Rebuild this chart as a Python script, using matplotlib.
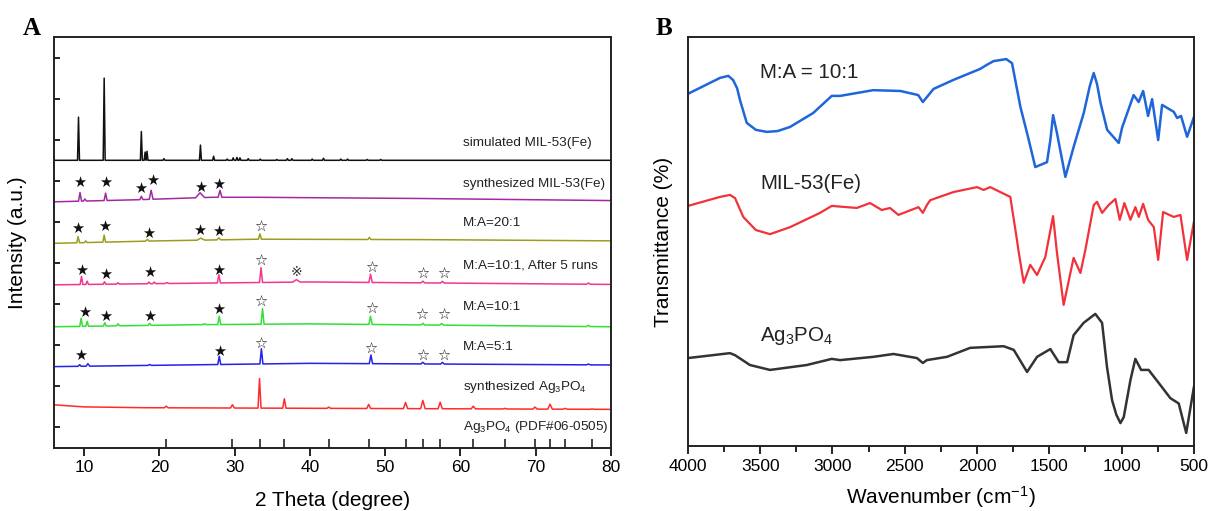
import numpy as np
import matplotlib.pyplot as plt

plt.rcParams['font.family'] = ['Liberation Sans', 'DejaVu Sans', 'Noto Sans CJK SC']
plt.rcParams['mathtext.fontset'] = 'custom'
plt.rcParams['mathtext.rm'] = 'Liberation Sans'
plt.rcParams['mathtext.default'] = 'rm'

# ---------------- XRD data (panel A) ----------------
# each pattern: baseline vertices, peak positions, peak heights, peak half widths
sim_base_x = [6, 80]
sim_base_y = [7.0, 7.0]
sim_pos = [9.25, 12.66, 17.6, 18.1, 18.35, 20.6, 25.45, 27.2, 29.0, 29.8, 30.3, 30.7,
           31.8, 33.4, 35.6, 37.0, 37.6, 40.3, 41.8, 44.1, 45.0, 47.6, 49.4]
sim_h = [1.05, 2.0, 0.7, 0.2, 0.22, 0.04, 0.37, 0.1, 0.03, 0.06, 0.07, 0.06,
         0.04, 0.03, 0.02, 0.04, 0.04, 0.03, 0.05, 0.03, 0.03, 0.02, 0.02]
sim_w = [0.13] * len(sim_pos)

mil_base_x = [6, 17, 27, 33, 55, 80]
mil_base_y = [5.99, 6.04, 6.1, 6.1, 6.07, 6.02]
mil_pos = [9.45, 10.1, 12.85, 17.6, 18.9, 25.4, 28.05]
mil_h = [0.21, 0.05, 0.18, 0.08, 0.22, 0.12, 0.17]
mil_w = [0.2, 0.2, 0.2, 0.2, 0.25, 0.6, 0.25]

ma20_base_x = [6, 20, 33, 55, 80]
ma20_base_y = [4.98, 5.04, 5.08, 5.07, 5.04]
ma20_pos = [9.2, 10.2, 12.66, 18.4, 25.5, 27.9, 33.35, 47.9]
ma20_h = [0.15, 0.04, 0.17, 0.04, 0.05, 0.05, 0.13, 0.05]
ma20_w = [0.18, 0.18, 0.18, 0.25, 0.5, 0.25, 0.2, 0.2]

ma10r_base_x = [6, 20, 40, 80]
ma10r_base_y = [3.97, 4.0, 4.04, 3.98]
ma10r_pos = [9.65, 10.4, 12.7, 14.5, 18.6, 19.3, 21.0, 27.9, 33.5, 38.2, 48.05, 55.0, 57.6, 77.0]
ma10r_h = [0.2, 0.08, 0.06, 0.03, 0.04, 0.04, 0.02, 0.2, 0.36, 0.06, 0.2, 0.04, 0.04, 0.03]
ma10r_w = [0.18, 0.18, 0.18, 0.2, 0.2, 0.2, 0.3, 0.2, 0.2, 0.5, 0.22, 0.25, 0.25, 0.25]

ma10_base_x = [6, 25, 40, 80]
ma10_base_y = [2.95, 3.0, 3.02, 2.95]
ma10_pos = [9.6, 10.4, 12.75, 14.5, 18.7, 26.0, 27.95, 33.7, 48.05, 55.0, 57.5, 77.0]
ma10_h = [0.2, 0.12, 0.08, 0.05, 0.05, 0.02, 0.2, 0.38, 0.2, 0.04, 0.04, 0.03]
ma10_w = [0.18, 0.18, 0.18, 0.2, 0.2, 0.3, 0.2, 0.2, 0.22, 0.25, 0.25, 0.25]

ma5_base_x = [6, 40, 80]
ma5_base_y = [1.98, 2.06, 2.02]
ma5_pos = [9.4, 10.5, 18.7, 27.95, 33.55, 48.1, 55.0, 57.6, 77.0]
ma5_h = [0.04, 0.06, 0.02, 0.2, 0.37, 0.21, 0.04, 0.04, 0.02]
ma5_w = [0.2, 0.25, 0.25, 0.2, 0.2, 0.22, 0.25, 0.25, 0.25]

ag_base_x = [6, 10, 18, 50, 80]
ag_base_y = [1.05, 1.0, 0.98, 0.96, 0.94]
ag_pos = [20.9, 29.7, 33.3, 36.6, 42.5, 47.8, 52.7, 55.0, 57.3, 61.7, 65.9, 69.9, 71.9, 73.9, 77.5]
ag_h = [0.04, 0.08, 0.72, 0.23, 0.03, 0.1, 0.15, 0.2, 0.16, 0.065, 0.015, 0.05, 0.12, 0.02, 0.01]
ag_w = [0.25, 0.25, 0.2, 0.22, 0.25, 0.25, 0.28, 0.3, 0.28, 0.28, 0.28, 0.28, 0.3, 0.28, 0.28]

pdf_pos = [20.9, 29.7, 33.3, 36.6, 42.5, 47.8, 52.7, 55.0, 57.3, 61.7, 65.9, 69.9, 71.9, 73.9, 77.5]

xrd_labels = ['simulated MIL-53(Fe)', 'synthesized MIL-53(Fe)', 'M:A=20:1',
              'M:A=10:1, After 5 runs', 'M:A=10:1', 'M:A=5:1',
              'synthesized Ag$_3$PO$_4$', 'Ag$_3$PO$_4$ (PDF#06-0505)']
xrd_label_y = [7.42, 6.42, 5.47, 4.45, 3.43, 2.46, 1.48, 0.51]
xrd_label_x = 60.3

# star markers (filled = MIL-53(Fe), open = Ag3PO4, reference mark = Ag)
mil_fill_x = [9.4, 12.9, 17.45, 19.1, 25.5, 27.9]
mil_fill_y = [6.45, 6.45, 6.32, 6.5, 6.33, 6.42]
ma20_fill_x = [9.1, 12.75, 18.5, 25.4, 27.8]
ma20_fill_y = [5.35, 5.4, 5.23, 5.3, 5.28]
ma20_open_x = [33.4]
ma20_open_y = [5.38]
ma10r_fill_x = [9.7, 12.8, 18.65, 27.9]
ma10r_fill_y = [4.33, 4.23, 4.28, 4.33]
ma10r_open_x = [33.5, 48.2, 55.0, 57.7]
ma10r_open_y = [4.53, 4.36, 4.23, 4.23]
ma10r_ref_x = [38.2]
ma10r_ref_y = [4.28]
ma10_fill_x = [10.0, 12.8, 18.7, 27.9]
ma10_fill_y = [3.31, 3.19, 3.21, 3.36]
ma10_open_x = [33.5, 48.2, 54.9, 57.7]
ma10_open_y = [3.55, 3.38, 3.24, 3.24]
ma5_fill_x = [9.56, 27.95]
ma5_fill_y = [2.24, 2.34]
ma5_open_x = [33.5, 48.1, 55.0, 57.7]
ma5_open_y = [2.53, 2.41, 2.24, 2.24]

# ---------------- FTIR data (panel B) ----------------
ftir_ma_wn = [4000, 3778, 3721, 3688, 3660, 3640, 3593, 3530, 3455, 3380, 3294, 3134, 3005, 2947,
              2718, 2530, 2407, 2375, 2347, 2301, 2164, 1978, 1932, 1886, 1798, 1758, 1700,
              1654, 1597, 1516, 1493, 1474, 1447, 1389, 1332, 1262, 1220, 1193, 1170, 1146,
              1100, 1020, 997, 917, 882, 851, 817, 789, 747, 720, 639, 616, 589, 547, 500]
ftir_ma_t = [86.1, 90.0, 90.5, 89.5, 87.5, 84.6, 79.0, 77.3, 76.8, 77.0, 78.0, 81.4, 85.6, 85.6,
             87.0, 86.8, 85.8, 84.1, 85.3, 87.3, 89.5, 92.2, 93.2, 94.1, 94.6, 93.6, 82.9,
             76.5, 68.2, 69.4, 74.8, 80.9, 76.5, 65.8, 73.1, 81.4, 88.0, 91.2, 88.5, 83.9,
             77.3, 74.1, 77.8, 85.8, 84.1, 86.8, 80.7, 84.8, 74.8, 83.4, 81.7, 80.2, 80.7,
             75.6, 80.4]

ftir_mil_wn = [4000, 3778, 3709, 3674, 3617, 3530, 3432, 3294, 3086, 3005, 2832, 2740, 2659,
               2602, 2544, 2405, 2375, 2347, 2324, 2162, 2000, 1955, 1909, 1840, 1770, 1724,
               1714, 1677, 1632, 1585, 1528, 1474, 1447, 1401, 1332, 1285, 1251, 1193, 1170,
               1135, 1090, 1043, 1013, 981, 939, 905, 881, 851, 817, 777, 747, 713, 639,
               593, 547, 500]
ftir_mil_t = [58.7, 60.9, 61.4, 60.6, 56.0, 52.8, 51.8, 53.5, 57.0, 58.7, 58.2, 59.4, 57.7,
              58.2, 56.5, 58.4, 57.0, 58.9, 60.1, 62.1, 63.3, 62.6, 63.3, 62.1, 60.9, 50.4,
              47.9, 39.9, 44.3, 41.8, 46.2, 56.2, 47.2, 34.5, 46.0, 42.3, 47.9, 58.9, 59.7,
              57.0, 58.9, 60.4, 55.3, 59.4, 55.3, 58.4, 56.0, 59.2, 55.3, 53.5, 45.5, 57.2,
              56.0, 56.5, 45.5, 54.8]

ftir_ag_wn = [4000, 3709, 3674, 3571, 3432, 3178, 3005, 2947, 2717, 2578, 2416, 2375, 2347,
              2208, 2047, 1816, 1746, 1654, 1585, 1493, 1435, 1377, 1332, 1263, 1182, 1135,
              1101, 1066, 1036, 1008, 985, 939, 905, 865, 813, 732, 663, 605, 553, 500]
ftir_ag_t = [21.5, 22.7, 22.2, 19.8, 18.6, 19.8, 21.3, 21.0, 21.8, 22.5, 21.5, 20.3, 21.0,
             21.8, 24.0, 24.4, 23.5, 18.1, 21.8, 23.7, 20.5, 20.5, 27.1, 30.1, 32.3, 30.1,
             19.3, 11.2, 7.6, 5.6, 7.1, 16.1, 21.3, 18.6, 18.6, 14.9, 11.7, 10.4, 3.2, 14.4]

ftir_labels = ['M:A = 10:1', 'MIL-53(Fe)', 'Ag$_3$PO$_4$']
ftir_label_y = [91.2, 64.3, 26.8]
ftir_label_x = 3500


def pattern(base_x, base_y, pos, h, w):
    # baseline vertices plus a triangle for every peak
    xs = list(base_x)
    ys = list(base_y)
    for p, hh, ww in zip(pos, h, w):
        for xx, dy in ((p - ww, 0.0), (p, hh), (p + ww, 0.0)):
            xs.append(xx)
            ys.append(np.interp(xx, base_x, base_y) + dy)
    order = np.argsort(xs, kind='stable')
    return np.array(xs)[order], np.array(ys)[order]


fig = plt.figure(figsize=(12.09, 5.11), dpi=100)
axA = fig.add_axes([0.0447, 0.1233, 0.4607, 0.8043])
axB = fig.add_axes([0.569, 0.1272, 0.4185, 0.8004])

# ---- panel A
traces = [
    (sim_base_x, sim_base_y, sim_pos, sim_h, sim_w, '#111111'),
    (mil_base_x, mil_base_y, mil_pos, mil_h, mil_w, '#A02AA0'),
    (ma20_base_x, ma20_base_y, ma20_pos, ma20_h, ma20_w, '#9C9C1E'),
    (ma10r_base_x, ma10r_base_y, ma10r_pos, ma10r_h, ma10r_w, '#F2358E'),
    (ma10_base_x, ma10_base_y, ma10_pos, ma10_h, ma10_w, '#33E033'),
    (ma5_base_x, ma5_base_y, ma5_pos, ma5_h, ma5_w, '#2222E8'),
    (ag_base_x, ag_base_y, ag_pos, ag_h, ag_w, '#FF2B2B'),
]
for bx, by, p, h, w, c in traces:
    x, y = pattern(bx, by, p, h, w)
    axA.plot(x, y, color=c, lw=1.1, solid_joinstyle='round')

axA.vlines(pdf_pos, 0, 0.22, color='#222222', lw=1.2)

star_font = ['DejaVu Sans', 'Noto Sans CJK SC']
for xs, ys, sym in [(mil_fill_x, mil_fill_y, '\u2605'), (ma20_fill_x, ma20_fill_y, '\u2605'),
                    (ma20_open_x, ma20_open_y, '\u2606'), (ma10r_fill_x, ma10r_fill_y, '\u2605'),
                    (ma10r_open_x, ma10r_open_y, '\u2606'), (ma10_fill_x, ma10_fill_y, '\u2605'),
                    (ma10_open_x, ma10_open_y, '\u2606'), (ma5_fill_x, ma5_fill_y, '\u2605'),
                    (ma5_open_x, ma5_open_y, '\u2606')]:
    for xx, yy in zip(xs, ys):
        axA.text(xx, yy, sym, ha='center', va='center', fontsize=10.5, family=star_font,
                 color='#111111')
for xx, yy in zip(ma10r_ref_x, ma10r_ref_y):
    axA.text(xx, yy, '\u203b', ha='center', va='center', fontsize=10, family=star_font,
             color='#333333')

for lab, yy in zip(xrd_labels, xrd_label_y):
    axA.text(xrd_label_x, yy, lab, ha='left', va='center', fontsize=9.7, color='#222222')

axA.set_xlim(6, 80)
axA.set_ylim(0, 10)
axA.set_xticks(range(10, 81, 10))
axA.set_yticks(np.arange(0.5, 10, 1))
axA.set_yticklabels([])
axA.tick_params(axis='x', direction='out', length=6, width=1.2, labelsize=12.5, pad=3)
axA.tick_params(axis='y', direction='in', length=4, width=1.2)
axA.set_xlabel('2 Theta (degree)', fontsize=15, va='center')
axA.xaxis.set_label_coords(0.5, -0.127)
axA.set_ylabel('Intensity (a.u.)', fontsize=15, va='center')
axA.yaxis.set_label_coords(-0.066, 0.5)

# ---- panel B
axB.plot(ftir_ma_wn, ftir_ma_t, color='#1F66DA', lw=1.8, solid_joinstyle='round')
axB.plot(ftir_mil_wn, ftir_mil_t, color='#F2323A', lw=1.6, solid_joinstyle='round')
axB.plot(ftir_ag_wn, ftir_ag_t, color='#333333', lw=1.8, solid_joinstyle='round')
for lab, yy in zip(ftir_labels, ftir_label_y):
    axB.text(ftir_label_x, yy, lab, ha='left', va='center', fontsize=14.8, color='#222222')

axB.set_xlim(4000, 500)
axB.set_ylim(0, 100)
axB.set_xticks(range(4000, 499, -500))
axB.set_xticks(range(3750, 500, -500), minor=True)
axB.set_yticks([])
axB.tick_params(axis='x', which='major', direction='out', length=6, width=1.2,
                labelsize=12.5, pad=3)
axB.tick_params(axis='x', which='minor', direction='out', length=4, width=1.2)
axB.set_xlabel('Wavenumber (cm$^{-1}$)', fontsize=15, va='center')
axB.xaxis.set_label_coords(0.5, -0.125)
axB.set_ylabel('Transmittance (%)', fontsize=15, va='center')
axB.yaxis.set_label_coords(-0.049, 0.5)

for ax in (axA, axB):
    for s in ax.spines.values():
        s.set_linewidth(1.4)
        s.set_color('#222222')

fig.text(23 / 1209, 1 - 35 / 511, 'A', family='Liberation Serif', weight='bold',
         fontsize=18, va='baseline')
fig.text(656 / 1209, 1 - 35 / 511, 'B', family='Liberation Serif', weight='bold',
         fontsize=18, va='baseline')

fig.savefig('out.png', dpi=100)
